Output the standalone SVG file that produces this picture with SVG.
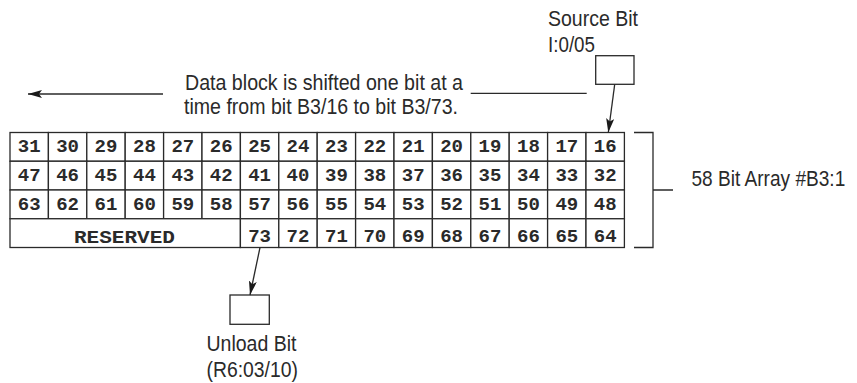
<svg xmlns="http://www.w3.org/2000/svg" width="857" height="383" viewBox="0 0 857 383">
<style>
.bg{fill:#fff}
.cell{fill:#fff;stroke:#2a2a2a;stroke-width:1.3}
.num{font-family:"Liberation Mono",monospace;font-weight:bold;font-size:19px;fill:#2a2a2a;text-anchor:middle}
.lbl{font-family:"Liberation Sans",Arial,sans-serif;font-size:22px;fill:#2a2a2a}
.ln{fill:none;stroke:#2a2a2a;stroke-width:1.3}
.box{fill:#fff;stroke:#2a2a2a;stroke-width:1.3}
</style>
<defs>
<marker id="ah" viewBox="0 0 14 8" refX="14" refY="4" markerWidth="14" markerHeight="8" markerUnits="userSpaceOnUse" orient="auto">
<path d="M0,0 L14,4 L0,8 L3,4 z" fill="#1a1a1a"/>
</marker>
</defs>
<rect class="bg" width="857" height="383"/>

<g id="shift-note">
<text class="lbl" x="185" y="90" textLength="278" lengthAdjust="spacingAndGlyphs">Data block is shifted one bit at a</text>
<text class="lbl" x="184" y="113.5" textLength="274" lengthAdjust="spacingAndGlyphs">time from bit B3/16 to bit B3/73.</text>
</g>

<g id="source-bit">
<text class="lbl" x="548" y="26" textLength="90" lengthAdjust="spacingAndGlyphs">Source Bit</text>
<text class="lbl" x="548" y="51.5" textLength="47" lengthAdjust="spacingAndGlyphs">I:0/05</text>
<rect class="box" x="595.7" y="55.7" width="38.3" height="28.6"/>
</g>

<g id="unload-bit">
<rect class="box" x="230" y="295" width="39.3" height="29.3"/>
<text class="lbl" x="206.5" y="351" textLength="90" lengthAdjust="spacingAndGlyphs">Unload Bit</text>
<text class="lbl" x="206.5" y="376.5" textLength="91.5" lengthAdjust="spacingAndGlyphs">(R6:03/10)</text>
</g>

<g id="array-label">
<path class="ln" d="M634,132.5 H653 V247.5 H634 M653,190 H673"/>
<text class="lbl" transform="translate(691.5,185.5) scale(0.868,1)">58 Bit Array #B3:1</text>
</g>

<g id="bit-array">
<g id="row-0">
<rect class="cell" x="10" y="132.5" width="38.4" height="28.75"/><text class="num" x="29.2" y="152">31</text>
<rect class="cell" x="48.4" y="132.5" width="38.4" height="28.75"/><text class="num" x="67.6" y="152">30</text>
<rect class="cell" x="86.8" y="132.5" width="38.4" height="28.75"/><text class="num" x="106" y="152">29</text>
<rect class="cell" x="125.2" y="132.5" width="38.4" height="28.75"/><text class="num" x="144.4" y="152">28</text>
<rect class="cell" x="163.6" y="132.5" width="38.4" height="28.75"/><text class="num" x="182.8" y="152">27</text>
<rect class="cell" x="202" y="132.5" width="38.4" height="28.75"/><text class="num" x="221.2" y="152">26</text>
<rect class="cell" x="240.4" y="132.5" width="38.4" height="28.75"/><text class="num" x="259.6" y="152">25</text>
<rect class="cell" x="278.8" y="132.5" width="38.4" height="28.75"/><text class="num" x="298" y="152">24</text>
<rect class="cell" x="317.2" y="132.5" width="38.4" height="28.75"/><text class="num" x="336.4" y="152">23</text>
<rect class="cell" x="355.6" y="132.5" width="38.4" height="28.75"/><text class="num" x="374.8" y="152">22</text>
<rect class="cell" x="394" y="132.5" width="38.4" height="28.75"/><text class="num" x="413.2" y="152">21</text>
<rect class="cell" x="432.4" y="132.5" width="38.4" height="28.75"/><text class="num" x="451.6" y="152">20</text>
<rect class="cell" x="470.8" y="132.5" width="38.4" height="28.75"/><text class="num" x="490" y="152">19</text>
<rect class="cell" x="509.2" y="132.5" width="38.4" height="28.75"/><text class="num" x="528.4" y="152">18</text>
<rect class="cell" x="547.6" y="132.5" width="38.4" height="28.75"/><text class="num" x="566.8" y="152">17</text>
<rect class="cell" x="586" y="132.5" width="38.4" height="28.75"/><text class="num" x="605.2" y="152">16</text>
</g>
<g id="row-1">
<rect class="cell" x="10" y="161.25" width="38.4" height="28.75"/><text class="num" x="29.2" y="180.75">47</text>
<rect class="cell" x="48.4" y="161.25" width="38.4" height="28.75"/><text class="num" x="67.6" y="180.75">46</text>
<rect class="cell" x="86.8" y="161.25" width="38.4" height="28.75"/><text class="num" x="106" y="180.75">45</text>
<rect class="cell" x="125.2" y="161.25" width="38.4" height="28.75"/><text class="num" x="144.4" y="180.75">44</text>
<rect class="cell" x="163.6" y="161.25" width="38.4" height="28.75"/><text class="num" x="182.8" y="180.75">43</text>
<rect class="cell" x="202" y="161.25" width="38.4" height="28.75"/><text class="num" x="221.2" y="180.75">42</text>
<rect class="cell" x="240.4" y="161.25" width="38.4" height="28.75"/><text class="num" x="259.6" y="180.75">41</text>
<rect class="cell" x="278.8" y="161.25" width="38.4" height="28.75"/><text class="num" x="298" y="180.75">40</text>
<rect class="cell" x="317.2" y="161.25" width="38.4" height="28.75"/><text class="num" x="336.4" y="180.75">39</text>
<rect class="cell" x="355.6" y="161.25" width="38.4" height="28.75"/><text class="num" x="374.8" y="180.75">38</text>
<rect class="cell" x="394" y="161.25" width="38.4" height="28.75"/><text class="num" x="413.2" y="180.75">37</text>
<rect class="cell" x="432.4" y="161.25" width="38.4" height="28.75"/><text class="num" x="451.6" y="180.75">36</text>
<rect class="cell" x="470.8" y="161.25" width="38.4" height="28.75"/><text class="num" x="490" y="180.75">35</text>
<rect class="cell" x="509.2" y="161.25" width="38.4" height="28.75"/><text class="num" x="528.4" y="180.75">34</text>
<rect class="cell" x="547.6" y="161.25" width="38.4" height="28.75"/><text class="num" x="566.8" y="180.75">33</text>
<rect class="cell" x="586" y="161.25" width="38.4" height="28.75"/><text class="num" x="605.2" y="180.75">32</text>
</g>
<g id="row-2">
<rect class="cell" x="10" y="190" width="38.4" height="28.75"/><text class="num" x="29.2" y="209.5">63</text>
<rect class="cell" x="48.4" y="190" width="38.4" height="28.75"/><text class="num" x="67.6" y="209.5">62</text>
<rect class="cell" x="86.8" y="190" width="38.4" height="28.75"/><text class="num" x="106" y="209.5">61</text>
<rect class="cell" x="125.2" y="190" width="38.4" height="28.75"/><text class="num" x="144.4" y="209.5">60</text>
<rect class="cell" x="163.6" y="190" width="38.4" height="28.75"/><text class="num" x="182.8" y="209.5">59</text>
<rect class="cell" x="202" y="190" width="38.4" height="28.75"/><text class="num" x="221.2" y="209.5">58</text>
<rect class="cell" x="240.4" y="190" width="38.4" height="28.75"/><text class="num" x="259.6" y="209.5">57</text>
<rect class="cell" x="278.8" y="190" width="38.4" height="28.75"/><text class="num" x="298" y="209.5">56</text>
<rect class="cell" x="317.2" y="190" width="38.4" height="28.75"/><text class="num" x="336.4" y="209.5">55</text>
<rect class="cell" x="355.6" y="190" width="38.4" height="28.75"/><text class="num" x="374.8" y="209.5">54</text>
<rect class="cell" x="394" y="190" width="38.4" height="28.75"/><text class="num" x="413.2" y="209.5">53</text>
<rect class="cell" x="432.4" y="190" width="38.4" height="28.75"/><text class="num" x="451.6" y="209.5">52</text>
<rect class="cell" x="470.8" y="190" width="38.4" height="28.75"/><text class="num" x="490" y="209.5">51</text>
<rect class="cell" x="509.2" y="190" width="38.4" height="28.75"/><text class="num" x="528.4" y="209.5">50</text>
<rect class="cell" x="547.6" y="190" width="38.4" height="28.75"/><text class="num" x="566.8" y="209.5">49</text>
<rect class="cell" x="586" y="190" width="38.4" height="28.75"/><text class="num" x="605.2" y="209.5">48</text>
</g>
<g id="row-3">
<rect class="cell" x="10" y="218.75" width="230.4" height="28.75"/><text class="num" x="124.5" y="242.5" textLength="101" lengthAdjust="spacingAndGlyphs">RESERVED</text>
<rect class="cell" x="240.4" y="218.75" width="38.4" height="28.75"/><text class="num" x="259.6" y="241.5">73</text>
<rect class="cell" x="278.8" y="218.75" width="38.4" height="28.75"/><text class="num" x="298" y="241.5">72</text>
<rect class="cell" x="317.2" y="218.75" width="38.4" height="28.75"/><text class="num" x="336.4" y="241.5">71</text>
<rect class="cell" x="355.6" y="218.75" width="38.4" height="28.75"/><text class="num" x="374.8" y="241.5">70</text>
<rect class="cell" x="394" y="218.75" width="38.4" height="28.75"/><text class="num" x="413.2" y="241.5">69</text>
<rect class="cell" x="432.4" y="218.75" width="38.4" height="28.75"/><text class="num" x="451.6" y="241.5">68</text>
<rect class="cell" x="470.8" y="218.75" width="38.4" height="28.75"/><text class="num" x="490" y="241.5">67</text>
<rect class="cell" x="509.2" y="218.75" width="38.4" height="28.75"/><text class="num" x="528.4" y="241.5">66</text>
<rect class="cell" x="547.6" y="218.75" width="38.4" height="28.75"/><text class="num" x="566.8" y="241.5">65</text>
<rect class="cell" x="586" y="218.75" width="38.4" height="28.75"/><text class="num" x="605.2" y="241.5">64</text>
</g>
</g>

<g id="connectors">
<path class="ln" d="M163,94 H28" marker-end="url(#ah)"/>
<path class="ln" d="M470.7,93.3 H586.7"/>
<path class="ln" d="M614.7,84.3 L608.3,132.5" marker-end="url(#ah)"/>
<path class="ln" d="M260,247.5 L250,295" marker-end="url(#ah)"/>
</g>
</svg>
